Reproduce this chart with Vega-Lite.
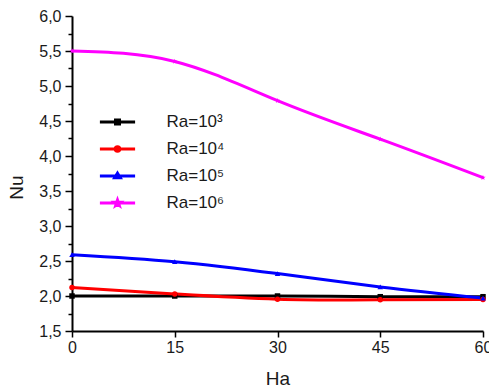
{
  "$schema": "https://vega.github.io/schema/vega-lite/v6.json",
  "width": 411,
  "height": 315,
  "autosize": "none",
  "padding": {"left": 72, "top": 16, "right": 6, "bottom": 60},
  "background": "white",
  "config": {
    "view": {"stroke": null},
    "font": "Liberation Sans"
  },
  "data": {
    "values": [
      {"ra": "Ra=10³", "ha": 0, "nu": 2.0},
      {"ra": "Ra=10³", "ha": 15, "nu": 2.0},
      {"ra": "Ra=10³", "ha": 30, "nu": 2.0},
      {"ra": "Ra=10³", "ha": 45, "nu": 1.99},
      {"ra": "Ra=10³", "ha": 60, "nu": 1.99},
      {"ra": "Ra=10⁴", "ha": 0, "nu": 2.12},
      {"ra": "Ra=10⁴", "ha": 15, "nu": 2.03},
      {"ra": "Ra=10⁴", "ha": 30, "nu": 1.955},
      {"ra": "Ra=10⁴", "ha": 45, "nu": 1.945},
      {"ra": "Ra=10⁴", "ha": 60, "nu": 1.95},
      {"ra": "Ra=10⁵", "ha": 0, "nu": 2.59},
      {"ra": "Ra=10⁵", "ha": 15, "nu": 2.49},
      {"ra": "Ra=10⁵", "ha": 30, "nu": 2.32},
      {"ra": "Ra=10⁵", "ha": 45, "nu": 2.13},
      {"ra": "Ra=10⁵", "ha": 60, "nu": 1.97},
      {"ra": "Ra=10⁶", "ha": 0, "nu": 5.5},
      {"ra": "Ra=10⁶", "ha": 15, "nu": 5.35},
      {"ra": "Ra=10⁶", "ha": 30, "nu": 4.79},
      {"ra": "Ra=10⁶", "ha": 45, "nu": 4.24},
      {"ra": "Ra=10⁶", "ha": 60, "nu": 3.69}
    ]
  },
  "encoding": {
    "x": {
      "field": "ha",
      "type": "quantitative",
      "scale": {"domain": [0, 60], "nice": false, "zero": false},
      "axis": {
        "title": "Ha",
        "values": [0, 15, 30, 45, 60],
        "grid": false,
        "domainColor": "black",
        "domainWidth": 2,
        "tickColor": "black",
        "tickWidth": 1.5,
        "tickSize": 6,
        "labelFontSize": 16,
        "labelColor": "#1a1a1a",
        "labelPadding": 2,
        "labelFlush": false,
        "titleFontSize": 19,
        "titleFontWeight": "normal",
        "titleColor": "#1a1a1a",
        "titleBaseline": "middle",
        "titleY": 47
      }
    },
    "y": {
      "field": "nu",
      "type": "quantitative",
      "scale": {"domain": [1.5, 6.0], "nice": false, "zero": false},
      "axis": {
        "title": "Nu",
        "values": [1.5, 1.75, 2.0, 2.25, 2.5, 2.75, 3.0, 3.25, 3.5, 3.75, 4.0, 4.25, 4.5, 4.75, 5.0, 5.25, 5.5, 5.75, 6.0],
        "labelExpr": "(datum.value * 2) % 1 === 0 ? replace(format(datum.value, '.1f'), '.', ',') : ''",
        "grid": false,
        "domainColor": "black",
        "domainWidth": 2,
        "tickColor": "black",
        "tickWidth": 1.5,
        "tickSize": {"condition": {"test": "(datum.value * 2) % 1 !== 0", "value": 4}, "value": 7},
        "labelFontSize": 16,
        "labelColor": "#1a1a1a",
        "labelPadding": 4,
        "labelFlush": false,
        "titleFontSize": 19,
        "titleFontWeight": "normal",
        "titleColor": "#1a1a1a",
        "titleBaseline": "middle",
        "titleX": -56,
        "titleY": 171
      }
    },
    "color": {
      "field": "ra",
      "type": "nominal",
      "scale": {
        "domain": ["Ra=10³", "Ra=10⁴", "Ra=10⁵", "Ra=10⁶"],
        "range": ["#000000", "#ff0000", "#0000ff", "#ff00ff"]
      },
      "legend": {
        "orient": "none",
        "legendX": 37,
        "legendY": 97.5,
        "title": null,
        "padding": 0,
        "labelFontSize": 17,
        "labelColor": "#1a1a1a",
        "labelOffset": 40.5,
        "rowPadding": 9,
        "symbolSize": 64,
        "symbolStrokeWidth": 3,
        "symbolOpacity": 1,
        "symbolType": {"expr": "datum.value === 'Ra=10³' ? 'M-4.4,0H4.4M-0.5,-0.5H0.5V0.5H-0.5Z' : datum.value === 'Ra=10⁴' ? 'M-4.4,0H4.4M-0.56,0A0.56,0.56,0,1,1,0.56,0A0.56,0.56,0,1,1,-0.56,0Z' : datum.value === 'Ra=10⁵' ? 'M-4.4,0H4.4M0,-0.7L0.7,0.45L-0.7,0.45Z' : 'M-4.4,0H4.4M0,-0.75L0.18,-0.25L0.71,-0.23L0.29,0.09L0.44,0.61L0,0.3L-0.44,0.61L-0.29,0.09L-0.71,-0.23L-0.18,-0.25Z'"},
        "symbolStrokeColor": {"expr": "scale('color', datum.value)"},
        "symbolFillColor": {"expr": "scale('color', datum.value)"}
      }
    }
  },
  "layer": [
    {
      "mark": {"type": "line", "interpolate": "natural", "strokeWidth": 3}
    },
    {
      "mark": {"type": "point", "filled": true, "opacity": 1},
      "encoding": {
        "shape": {
          "field": "ra",
          "type": "nominal",
          "scale": {
            "range": ["square", "circle", "triangle-up", "M0,-1L0.235,-0.324L0.951,-0.309L0.38,0.124L0.588,0.809L0,0.4L-0.588,0.809L-0.38,0.124L-0.951,-0.309L-0.235,-0.324Z"]
          },
          "legend": null
        },
        "size": {
          "field": "ra",
          "type": "ordinal",
          "scale": {
            "range": [30, 30, 55, 80]
          },
          "legend": null
        }
      }
    }
  ]
}
